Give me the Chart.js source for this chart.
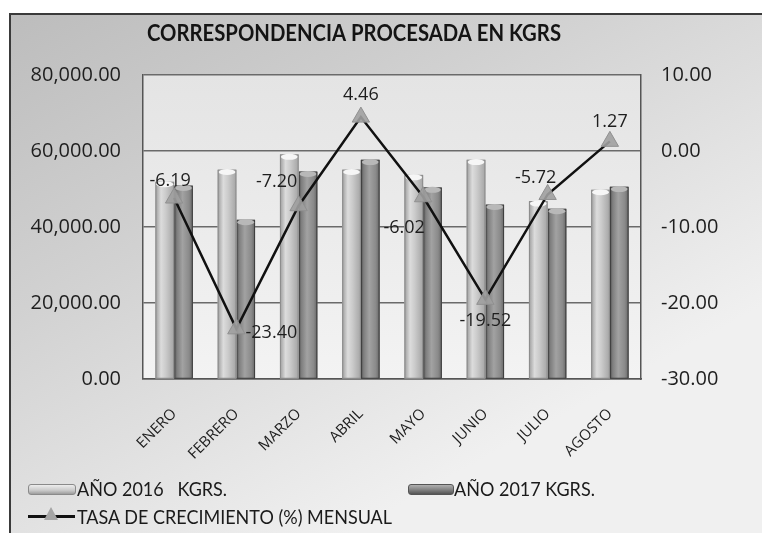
<!DOCTYPE html>
<html><head><meta charset="utf-8">
<script src="https://cdn.jsdelivr.net/npm/chart.js@4"></script>
<style>
html,body{margin:0;padding:0;background:#fff;}
#wrap{position:relative;width:762px;height:533px;overflow:hidden;}
canvas{position:absolute;left:0;top:0;}
.leg{position:absolute;font-family:Lato,'Open Sans',sans-serif;font-size:20px;color:#1a1a1a;white-space:pre;line-height:20px;transform:scaleX(0.9);transform-origin:0 50%;}
.sym{position:absolute;}
</style></head><body>
<div id="wrap">
<canvas id="c" width="762" height="533"></canvas>
<div class="sym" style="left:28px;top:484px;width:46px;height:9px;background:linear-gradient(#ededed,#c9c9c9 60%,#9d9d9d);border:1px solid #8a8a8a;border-radius:3px;"></div>
<div class="leg" style="left:77px;top:478px;">AÑO 2016   KGRS.</div>
<div class="sym" style="left:408px;top:484px;width:44px;height:9px;background:linear-gradient(#b0b0b0,#7c7c7c 60%,#555);border:1px solid #555;border-radius:3px;"></div>
<div class="leg" style="left:454px;top:478px;">AÑO 2017 KGRS.</div>
<div class="sym" style="left:28px;top:515px;width:47px;height:3px;background:#111;"></div>
<div class="sym" style="left:44px;top:507px;width:0;height:0;border-left:7px solid transparent;border-right:7px solid transparent;border-bottom:13px solid #a5a5a5;"></div>
<div class="leg" style="left:77px;top:506px;">TASA DE CRECIMIENTO (%) MENSUAL</div>
</div>
<script>
const months = ['ENERO','FEBRERO','MARZO','ABRIL','MAYO','JUNIO','JULIO','AGOSTO'];
const kgs2016 = [51800, 55000, 59000, 55000, 53600, 57600, 46700, 49700];
const kgs2017 = [50800, 41800, 54500, 57600, 50300, 45800, 44700, 50500];
const growth = [-6.19, -23.40, -7.20, 4.46, -6.02, -19.52, -5.72, 1.27];
const leftTicks = [0, 20000, 40000, 60000, 80000];
const rightTicks = [-30, -20, -10, 0, 10];
const titleText = 'CORRESPONDENCIA PROCESADA EN KGRS';

const labelOffsets = [[-4,-17],[35,4],[-22,-24],[0,-22],[-19,31],[0,22],[-12,-17],[0,-19]];

const bgPlugin = {
  id: 'bg',
  beforeDraw(chart) {
    const ctx = chart.ctx, a = chart.chartArea;
    ctx.save();
    ctx.fillStyle = '#ffffff';
    ctx.fillRect(0, 0, chart.width, chart.height);
    const g = ctx.createLinearGradient(0, 14, 300, 560);
    g.addColorStop(0, '#bcbcbc');
    g.addColorStop(0.45, '#d2d2d2');
    g.addColorStop(1, '#f0f0f0');
    ctx.fillStyle = g;
    ctx.fillRect(10, 14, chart.width - 10, chart.height - 14);
    ctx.strokeStyle = '#3a3a3a';
    ctx.lineWidth = 2;
    ctx.beginPath();
    ctx.moveTo(10, chart.height);
    ctx.lineTo(10, 14);
    ctx.lineTo(chart.width, 14);
    ctx.stroke();
    const pg = ctx.createLinearGradient(0, a.top, 0, a.bottom);
    pg.addColorStop(0, '#e4e4e4');
    pg.addColorStop(1, '#f3f3f3');
    ctx.fillStyle = pg;
    ctx.fillRect(a.left, a.top, a.right - a.left, a.bottom - a.top);
    ctx.fillStyle = '#141414';
    ctx.font = "bold 22px Lato, 'Open Sans', sans-serif";
    ctx.textBaseline = 'middle';
    ctx.textAlign = 'left';
    const w = ctx.measureText(titleText).width;
    ctx.translate(147, 34);
    ctx.scale(414 / w, 1);
    ctx.fillText(titleText, 0, 0);
    ctx.restore();
  }
};

const cylPlugin = {
  id: 'cyl',
  afterDatasetDraw(chart, args) {
    const meta = args.meta;
    if (meta.type !== 'bar') return;
    const ctx = chart.ctx;
    const dark = meta.index === 1;
    ctx.save();
    meta.data.forEach(el => {
      const p = el.getProps(['x','y','base','width'], true);
      const l = p.x - p.width / 2, r = p.x + p.width / 2;
      const g = ctx.createLinearGradient(l, 0, r, 0);
      if (dark) {
        g.addColorStop(0, '#4e4e4e');
        g.addColorStop(0.15, '#7e7e7e');
        g.addColorStop(0.45, '#a2a2a2');
        g.addColorStop(0.8, '#8a8a8a');
        g.addColorStop(1, '#666666');
      } else {
        g.addColorStop(0, '#9c9c9c');
        g.addColorStop(0.3, '#dcdcdc');
        g.addColorStop(0.55, '#cbcbcb');
        g.addColorStop(1, '#a4a4a4');
      }
      ctx.fillStyle = g;
      ctx.fillRect(l, p.y, p.width, p.base - p.y);
      ctx.strokeStyle = dark ? '#3e3e3e' : '#8c8c8c';
      ctx.lineWidth = 1;
      ctx.strokeRect(l + 0.5, p.y, p.width - 1, p.base - p.y);
      ctx.beginPath();
      ctx.ellipse(p.x, p.y + 2, p.width / 2 - 1, 3, 0, 0, Math.PI * 2);
      ctx.fillStyle = dark ? '#b8b8b8' : '#f6f6f6';
      ctx.fill();
    });
    ctx.restore();
  }
};

const labelPlugin = {
  id: 'vals',
  afterDatasetsDraw(chart) {
    const meta = chart.getDatasetMeta(2);
    const ctx = chart.ctx;
    ctx.save();
    ctx.font = "18px 'Open Sans', sans-serif";
    ctx.fillStyle = '#1e1e1e';
    ctx.textAlign = 'center';
    ctx.textBaseline = 'middle';
    meta.data.forEach((pt, i) => {
      const o = labelOffsets[i];
      ctx.fillText(growth[i].toFixed(2), pt.x + o[0], pt.y + o[1]);
    });
    ctx.restore();
  }
};

new Chart(document.getElementById('c'), {
  data: {
    labels: months,
    datasets: [
      { type: 'bar', label: 'AÑO 2016   KGRS.', data: kgs2016, yAxisID: 'y', order: 1,
        backgroundColor: '#c8c8c8', categoryPercentage: 0.6, barPercentage: 1.0 },
      { type: 'bar', label: 'AÑO 2017 KGRS.', data: kgs2017, yAxisID: 'y', order: 1,
        backgroundColor: '#8a8a8a', categoryPercentage: 0.6, barPercentage: 1.0 },
      { type: 'line', label: 'TASA DE CRECIMIENTO (%) MENSUAL', data: growth, yAxisID: 'y1', order: 0,
        borderColor: '#111111', borderWidth: 2.5, pointStyle: 'triangle', pointRadius: 10,
        pointBackgroundColor: 'rgba(160,160,160,0.9)', pointBorderColor: '#909090', pointBorderWidth: 1, tension: 0 }
    ]
  },
  options: {
    responsive: false,
    animation: false,
    layout: { padding: { top: 75, left: 0, right: 0, bottom: 0 } },
    plugins: { legend: { display: false }, tooltip: { enabled: false }, title: { display: false } },
    scales: {
      x: {
        grid: { display: false, drawTicks: false },
        border: { display: true, color: '#555555', width: 1.5 },
        ticks: { color: '#1e1e1e', font: { family: "'Open Sans', sans-serif", size: 15 },
          minRotation: 45, maxRotation: 45, padding: 26, autoSkip: false },
        afterFit: s => { s.height = 154; }
      },
      y: {
        position: 'left', min: 0, max: 80000,
        afterBuildTicks: s => { s.ticks = leftTicks.map(v => ({ value: v })); },
        grid: { color: '#6a6a6a', lineWidth: 1.5, drawTicks: false },
        border: { display: true, color: '#555555', width: 1.5 },
        ticks: { color: '#1e1e1e', font: { family: "'Open Sans', sans-serif", size: 20 }, padding: 22,
          callback: v => Number(v).toLocaleString('en-US', { minimumFractionDigits: 2, maximumFractionDigits: 2 }) },
        afterFit: s => { s.width = 143; }
      },
      y1: {
        position: 'right', min: -30, max: 10,
        afterBuildTicks: s => { s.ticks = rightTicks.map(v => ({ value: v })); },
        grid: { display: false, drawTicks: false },
        border: { display: true, color: '#555555', width: 1.5 },
        ticks: { color: '#1e1e1e', font: { family: "'Open Sans', sans-serif", size: 20 }, padding: 20,
          callback: v => Number(v).toFixed(2) },
        afterFit: s => { s.width = 121; }
      }
    }
  },
  plugins: [bgPlugin, cylPlugin, labelPlugin]
});
</script>
</body></html>
